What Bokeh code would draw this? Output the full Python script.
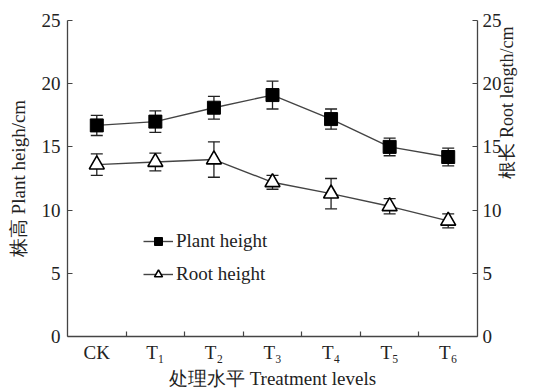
import math
from bokeh.plotting import figure
from bokeh.models import (Range1d, LinearAxis, FixedTicker, Whisker, TeeHead,
                          ColumnDataSource, Legend, LegendItem)
from bokeh.embed import file_html
from bokeh.resources import INLINE

# ---- data ----
categories = ["CK", "T₁", "T₂", "T₃", "T₄", "T₅", "T₆"]
plant_height = [16.7, 17.0, 18.1, 19.1, 17.2, 15.0, 14.2]
plant_err = [0.8, 0.85, 0.9, 1.1, 0.8, 0.7, 0.7]
root_length = [13.6, 13.8, 14.0, 12.2, 11.3, 10.3, 9.15]
root_err = [0.85, 0.7, 1.4, 0.55, 1.2, 0.6, 0.55]
y_ticks = [0, 5, 10, 15, 20, 25]

SERIF = "Liberation Serif"
INK = "#222222"
LINE = "#444444"

xs = [i + 0.5 for i in range(len(categories))]

p = figure(width=533, height=391, output_backend="svg", toolbar_location=None,
           x_range=Range1d(0, len(categories)), y_range=Range1d(0, 25),
           min_border_left=67, min_border_right=56, min_border_top=20,
           min_border_bottom=55, x_axis_type=None, y_axis_type=None)
p.outline_line_color = None
p.xgrid.visible = False
p.ygrid.visible = False
p.background_fill_color = "white"
p.border_fill_color = "white"
p.extra_y_ranges = {"root": Range1d(0, 25)}

def style(ax):
    ax.axis_line_color = LINE
    ax.axis_line_width = 1.3
    ax.major_tick_line_color = LINE
    ax.minor_tick_line_color = LINE
    ax.major_tick_line_width = 1.2
    ax.minor_tick_line_width = 1.2
    ax.major_label_text_font = SERIF
    ax.major_label_text_font_size = "19px"
    ax.major_label_text_font_style = "normal"
    ax.major_label_text_color = INK
    ax.axis_label_text_font = SERIF
    ax.axis_label_text_font_size = "19px"
    ax.axis_label_text_font_style = "normal"
    ax.axis_label_text_color = INK

# x axis
xaxis = LinearAxis(axis_label="处理水平 Treatment levels",
                   ticker=FixedTicker(ticks=xs, minor_ticks=list(range(1, len(categories)))))
style(xaxis)
xaxis.major_tick_in = 0
xaxis.major_tick_out = 0
xaxis.minor_tick_in = 5
xaxis.minor_tick_out = 0
xaxis.major_label_standoff = 5
xaxis.axis_label_standoff = 2
xaxis.major_label_overrides = {x: c for x, c in zip(xs, categories)}
p.add_layout(xaxis, "below")

# left axis
yl = LinearAxis(axis_label="株高 Plant heigh/cm", ticker=FixedTicker(ticks=y_ticks))
style(yl)
yl.major_tick_in = 5
yl.major_tick_out = 0
yl.minor_tick_in = 0
yl.minor_tick_out = 0
yl.major_label_standoff = 7
yl.axis_label_standoff = 10
p.add_layout(yl, "left")

# right axis
yr = LinearAxis(y_range_name="root", axis_label="根长 Root length/cm",
                ticker=FixedTicker(ticks=y_ticks))
style(yr)
yr.major_tick_in = 5
yr.major_tick_out = 0
yr.minor_tick_in = 0
yr.minor_tick_out = 0
yr.major_label_standoff = 5
yr.axis_label_standoff = 2
yr.axis_label_text_font_size = "18px"
yr.axis_label_orientation = math.pi / 2
p.add_layout(yr, "right")

src_p = ColumnDataSource(dict(x=xs, y=plant_height,
                              lo=[v - e for v, e in zip(plant_height, plant_err)],
                              hi=[v + e for v, e in zip(plant_height, plant_err)]))
src_r = ColumnDataSource(dict(x=xs, y=root_length,
                              lo=[v - e for v, e in zip(root_length, root_err)],
                              hi=[v + e for v, e in zip(root_length, root_err)]))

# error bars
for src, rng in ((src_p, "default"), (src_r, "root")):
    w = Whisker(source=src, base="x", lower="lo", upper="hi", y_range_name=rng,
                line_color=INK, line_width=1.3,
                upper_head=TeeHead(size=12, line_color=INK, line_width=1.3),
                lower_head=TeeHead(size=12, line_color=INK, line_width=1.3))
    p.add_layout(w)

lp = p.line("x", "y", source=src_p, line_color=LINE, line_width=1.4)
sp = p.scatter("x", "y", source=src_p, marker="square", size=13,
               fill_color="black", line_color="black")
lr = p.line("x", "y", source=src_r, line_color=LINE, line_width=1.4, y_range_name="root")
sr = p.scatter("x", "y", source=src_r, marker="triangle", size=15, y_range_name="root",
               fill_color="white", line_color="black", line_width=1.6)

legend = Legend(items=[LegendItem(label="Plant height", renderers=[lp, sp]),
                       LegendItem(label="Root height", renderers=[lr, sr])],
                location=(76, 51), margin=0, padding=0, spacing=11,
                glyph_width=30, glyph_height=20, label_standoff=3,
                label_text_font=SERIF, label_text_font_size="19px",
                label_text_font_style="normal",
                label_text_color=INK, border_line_color=None,
                background_fill_alpha=0)
p.add_layout(legend, "center")

open("out.html", "w").write(file_html(p, INLINE))
